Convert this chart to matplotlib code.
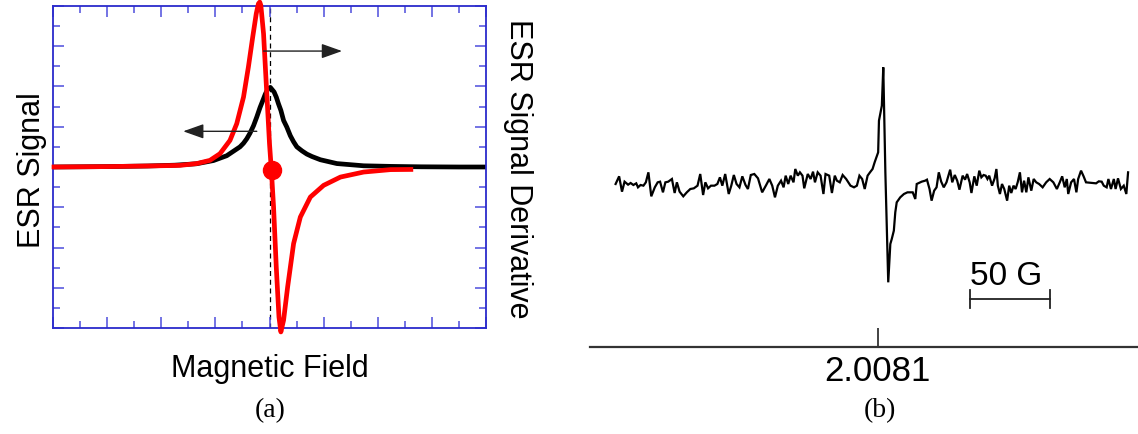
import matplotlib
matplotlib.use("Agg")
import matplotlib.pyplot as plt
from matplotlib.ticker import MultipleLocator

plt.rcParams["font.family"] = ["Liberation Sans", "DejaVu Sans"]

# ---------------- panel (a): absorption line and its first derivative ----------------
absorb_x = [-8.0, -6.0, -4.5, -3.5, -2.7, -2.07, -1.58, -1.09, -0.96, -0.84, -0.72,
            -0.59, -0.47, -0.35, -0.22, -0.16, -0.07, 0.03, 0.17, 0.25, 0.33, 0.42,
            0.52, 0.64, 0.77, 0.89, 1.01, 1.2, 1.38, 1.57, 1.88, 2.49, 3.48, 4.5,
            5.6, 7.0, 8.05]
absorb_y = [0.0, 0.02, 0.05, 0.09, 0.16, 0.32, 0.56, 1.0, 1.18, 1.40, 1.68,
            2.05, 2.48, 2.95, 3.39, 3.60, 3.85, 3.95, 3.72, 3.47, 3.14, 2.81,
            2.31, 1.98, 1.55, 1.25, 1.0, 0.80, 0.64, 0.52, 0.36, 0.17, 0.06, 0.03,
            0.01, 0.0, 0.0]

deriv_x = [-8.05, -6.0, -4.5, -3.31, -2.69, -2.2, -1.83, -1.46, -1.21, -0.96, -0.78,
           -0.62, -0.49, -0.41, -0.36, -0.32, -0.22, -0.12, 0.0, 0.07, 0.15, 0.25,
           0.35, 0.42, 0.52, 0.67, 0.89, 1.14, 1.51, 2.0, 2.62, 3.48, 4.47, 5.31]
deriv_y = [0.0, 0.02, 0.05, 0.08, 0.17, 0.33, 0.66, 1.32, 2.15, 3.47, 4.96,
           6.45, 7.60, 8.10, 8.18, 8.02, 6.61, 4.13, 1.16, -0.17, -1.98, -4.96,
           -7.44, -8.18, -7.60, -5.95, -3.80, -2.48, -1.49, -0.91, -0.50, -0.25,
           -0.13, -0.12]

zero_cross = (0.09, -0.17)

# ---------------- panel (b): measured spectrum ----------------
field_G = [-163.7, -161.5, -159.7, -158.1, -155.9, -154.3, -152.6, -150.8, -149.7, -148.1,
           -146.3, -144.8, -143.2, -141.4, -139.2, -137.4, -135.9, -134.1, -132.6, -130.8,
           -128.5, -126.8, -125.4, -123.7, -121.4, -119.2, -117.0, -114.8, -112.5, -110.8,
           -109.0, -107.6, -105.9, -104.1, -101.9, -100.1, -98.5, -97.0, -95.2, -93.0,
           -91.4, -89.8, -88.1, -86.3, -84.5, -82.5, -81.0, -79.2, -77.0, -74.7,
           -72.1, -69.8, -67.6, -65.8, -64.1, -62.3, -60.3, -58.7, -57.4, -55.8,
           -54.3, -52.5, -51.4, -49.8, -48.5, -46.9, -45.8, -43.6, -41.8, -40.3,
           -39.1, -37.4, -35.6, -33.8, -32.5, -30.2, -28.5, -26.7, -25.4, -23.6,
           -21.8, -19.6, -16.9, -14.7, -12.9, -11.3, -9.6, -8.0, -6.2, -4.7,
           -3.1, -1.8, 0.4, 0.9, 2.7, 3.6, 4.9, 6.7, 8.0, 8.9,
           10.2, 11.1, 12.0, 14.2, 16.5, 18.7, 22.0, 23.6, 24.5, 27.6,
           29.8, 30.9, 32.5, 33.8, 35.4, 36.9, 38.3, 39.8, 41.4, 43.1,
           45.4, 46.7, 48.3, 49.8, 51.2, 53.2, 54.7, 56.0, 57.6, 58.7,
           60.5, 62.0, 63.6, 64.9, 66.3, 67.6, 68.7, 69.8, 71.6, 73.2,
           74.3, 75.2, 76.5, 77.8, 79.2, 81.0, 82.3, 83.6, 85.0, 86.3,
           87.6, 89.0, 90.3, 91.6, 93.0, 94.3, 96.1, 97.6, 99.2, 101.0,
           103.2, 105.4, 107.6, 109.9, 112.1, 113.9, 115.4, 117.0, 118.3, 119.2,
           121.0, 122.8, 124.3, 125.4, 127.2, 128.8, 130.3, 134.3, 136.6, 138.3,
           140.1, 141.4, 143.2, 144.3, 145.9, 147.7, 148.8, 150.3, 152.1, 153.9,
           155.5, 156.6]
signal = [0.5, 2.8, -1.8, 1.2, 0.3, 0.8, 0.2, 0.7, -0.5, 0.2,
          0.0, 1.0, 4.0, -3.2, -0.5, 1.0, 1.2, -2.0, 1.0, 1.2,
          2.0, -2.2, 1.0, -1.8, -3.2, -2.0, -1.0, -0.8, 0.0, 3.5,
          -2.8, 1.0, -0.8, 0.0, 0.0, 0.5, 2.5, 0.0, 3.5, -2.5,
          0.0, 3.2, 0.5, -0.5, 2.8, 0.2, -1.0, 3.2, 3.5, 2.2,
          -2.0, 0.0, 2.0, 0.0, -3.5, 0.0, 1.5, -0.5, 3.0, 0.5,
          3.0, 1.0, 5.0, 3.0, 4.0, 3.0, -0.8, 3.5, 2.0, 4.2,
          1.0, 4.0, 3.0, -2.5, 3.5, 3.0, -2.2, 3.0, 1.5, 1.0,
          3.2, 2.0, 0.0, -0.5, 0.0, 3.0, 2.0, -1.0, 3.0, 4.0,
          5.0, 7.0, 10.0, 19.5, 24.0, 35.5, 4.0, -29.0, -17.5, -16.0,
          -13.5, -8.0, -5.0, -3.5, -2.5, -2.0, -2.0, -4.0, 0.5, 1.2,
          1.5, 1.8, -1.0, -4.5, -1.5, -0.5, 4.0, 1.2, -0.5, 1.0,
          4.8, 1.0, 3.2, 1.5, -1.2, 3.0, 1.8, 3.5, 1.0, -2.2,
          2.8, 0.0, 4.5, 2.5, 3.2, 3.0, 2.0, 3.0, 0.0, 2.2,
          5.0, 0.0, -2.5, 0.5, -1.0, -4.5, 0.0, -2.2, 0.0, -1.0,
          1.0, 4.0, -2.0, 1.5, -2.0, 2.5, -1.5, 2.0, 1.0, 0.5,
          -0.5, 1.0, 2.0, 1.0, -1.0, 1.0, 2.8, -0.5, 2.0, -2.5,
          1.0, 2.0, -2.0, 2.0, 4.5, 2.8, 1.0, 0.8, 0.7, 1.3,
          1.2, 0.0, -0.5, 2.0, -1.0, 2.0, -1.0, 2.2, -1.0, 0.0,
          -2.5, 4.0]

g_value_label = "2.0081"
scale_bar_G = 50.0
scale_bar_start = 57.6

W, H = 1138, 435
fig = plt.figure(figsize=(W / 100, H / 100), dpi=100)

FRAME = "#2b2bcc"
TICKC = "#4d4ddd"

# ---------- panel (a) ----------
axa = fig.add_axes([53 / W, 1 - 329.3 / H, (486 - 53) / W, (329.3 - 6.7) / H])
axa.set_xlim(-8, 8)
axa.set_ylim(-8, 8)
for sp in axa.spines.values():
    sp.set_color(FRAME)
    sp.set_linewidth(1.3)
axa.xaxis.set_major_locator(MultipleLocator(2))
axa.xaxis.set_minor_locator(MultipleLocator(1))
axa.yaxis.set_major_locator(MultipleLocator(2))
axa.yaxis.set_minor_locator(MultipleLocator(1))
axa.tick_params(which="both", direction="in", top=True, right=True,
                labelbottom=False, labelleft=False, color=TICKC, width=1.1)
axa.tick_params(which="major", length=8)
axa.tick_params(which="minor", length=5)

axa.axvline(0, color="black", lw=0.9, ls=(0, (4, 3)), zorder=1)
axa.plot(absorb_x, absorb_y, color="black", lw=3.4, zorder=2,
         solid_capstyle="butt")
axa.plot(deriv_x, deriv_y, color="#ff0000", lw=3.4, zorder=3, clip_on=False,
         solid_capstyle="butt")
axa.plot([zero_cross[0]], [zero_cross[1]], "o", color="#ff0000", ms=13,
         zorder=4, clip_on=False)

arrow_kw = dict(arrowstyle="-|>,head_length=0.9,head_width=0.32",
                color="#222222", lw=1.0, mutation_scale=14, shrinkA=0, shrinkB=0)
axa.annotate("", xy=(2.68, 5.75), xytext=(-0.22, 5.75), arrowprops=arrow_kw)
axa.annotate("", xy=(-3.19, 1.77), xytext=(-0.47, 1.77), arrowprops=arrow_kw)

fig.text(32 / W, 1 - 170 / H, "ESR Signal", rotation=90, ha="center",
         va="center", fontsize=22)
fig.text(518 / W, 1 - 169 / H, "ESR Signal Derivative", rotation=-90,
         ha="center", va="center", fontsize=22)
fig.text(270 / W, 1 - 369 / H, "Magnetic Field", ha="center", va="center",
         fontsize=22)
fig.text(270 / W, 1 - 411 / H, "(a)", ha="center", va="center", fontsize=20,
         family=["Liberation Serif", "DejaVu Serif"])

# ---------- panel (b) ----------
axb = fig.add_axes([590 / W, 1 - 348 / H, (W - 590) / W, (348 - 60) / H])
axb.set_xlim(-179.7, 162.8)
axb.set_ylim(-48.4, 38)
for name in ("top", "left", "right"):
    axb.spines[name].set_visible(False)
axb.spines["bottom"].set_color("#333333")
axb.spines["bottom"].set_linewidth(1.6)
axb.set_yticks([])
axb.set_xticks([0])
axb.set_xticklabels([g_value_label])
axb.tick_params(axis="x", direction="in", length=14, width=1.2,
                color="#222222", labelsize=25, pad=5)

axb.plot(field_G, signal, color="black", lw=1.6, solid_joinstyle="miter")

bar_y = -34.0
cap = 2.7
x0, x1 = scale_bar_start, scale_bar_start + scale_bar_G
axb.plot([x0, x1], [bar_y, bar_y], color="#222222", lw=1.3)
axb.plot([x0, x0], [bar_y - cap, bar_y + cap], color="#222222", lw=1.3)
axb.plot([x1, x1], [bar_y - cap, bar_y + cap], color="#222222", lw=1.3)
axb.text(x0, -29.5, f"{scale_bar_G:.0f} G", ha="left", va="baseline",
         fontsize=24)

fig.text(880 / W, 1 - 411 / H, "(b)", ha="center", va="center", fontsize=20,
         family=["Liberation Serif", "DejaVu Serif"])

fig.savefig("out.png", dpi=100)
